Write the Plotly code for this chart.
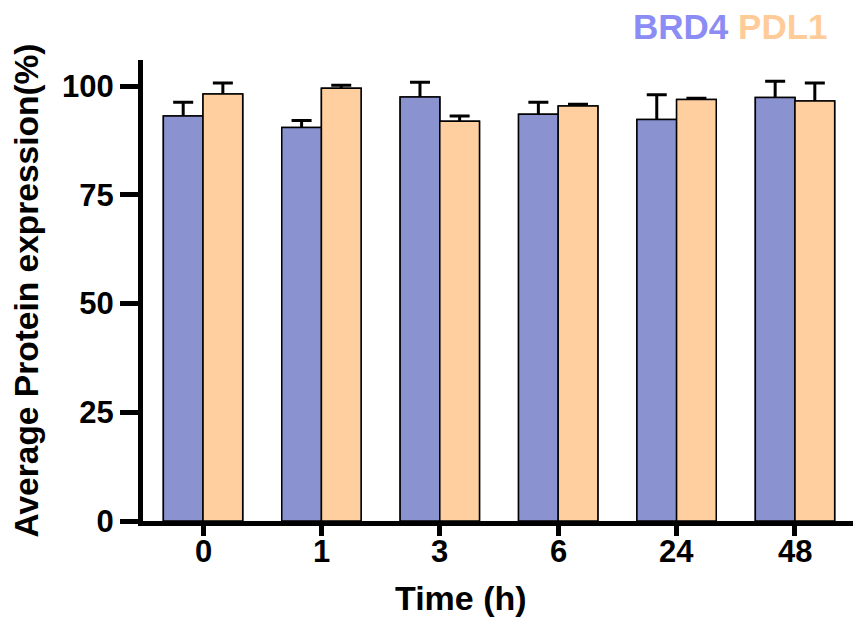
import plotly.graph_objects as go

time_labels = ["0", "1", "3", "6", "24", "48"]
brd4_mean = [93.1, 90.5, 97.5, 93.5, 92.3, 97.4]
brd4_err = [3.2, 1.6, 3.4, 2.8, 5.7, 3.7]
pdl1_mean = [98.2, 99.5, 91.9, 95.4, 96.9, 96.6]
pdl1_err = [2.5, 0.7, 1.2, 0.4, 0.3, 4.1]

BAR_BLUE = "#8A92D0"
BAR_ORANGE = "#FFCF9F"
TXT_BLUE = "#8C8CF5"
TXT_ORANGE = "#FFCC99"
FONT = "Liberation Sans, Arial, sans-serif"

fig = go.Figure()

# bars carrying the error bars (symmetric; lower half hidden by cover bars)
for name, vals, errs, col, grp in [("BRD4", brd4_mean, brd4_err, BAR_BLUE, "a"),
                                   ("PDL1", pdl1_mean, pdl1_err, BAR_ORANGE, "b")]:
    fig.add_trace(go.Bar(
        x=time_labels, y=vals, name=name, offsetgroup=grp, showlegend=False,
        marker=dict(color=col, line=dict(color="black", width=1.5)),
        error_y=dict(type="data", array=errs, symmetric=True,
                     color="black", thickness=3, width=10),
        hoverinfo="skip",
    ))
# cover bars drawn on top to hide the lower half of the error bars
for name, vals, col, grp in [("BRD4", brd4_mean, BAR_BLUE, "a"),
                             ("PDL1", pdl1_mean, BAR_ORANGE, "b")]:
    fig.add_trace(go.Bar(
        x=time_labels, y=vals, name=name, offsetgroup=grp, showlegend=False,
        marker=dict(color=col, line=dict(color="black", width=1.5)),
    ))

# x tick labels placed as annotations (closer to the axis than Plotly's default);
# category index used as x so numeric-looking labels are not misread as values
tick_annots = [
    dict(text=lab, x=i, xref="x", y=0, yref="paper", yshift=-30,
         xanchor="center", yanchor="middle", showarrow=False,
         font=dict(size=31, family=FONT, weight="bold", color="black"))
    for i, lab in enumerate(time_labels)
]

fig.update_layout(
    width=853, height=619,
    margin=dict(l=143, r=0, t=60, b=98),
    plot_bgcolor="white", paper_bgcolor="white",
    barmode="group", bargap=0.33, bargroupgap=0,
    font=dict(family=FONT, color="black"),
    showlegend=False,
    xaxis=dict(
        type="category", range=[-0.507, 5.49],
        showline=True, linecolor="black", linewidth=5,
        ticks="outside", ticklen=10, tickwidth=5, tickcolor="black",
        showticklabels=False,
        showgrid=False, zeroline=False,
    ),
    yaxis=dict(
        range=[0, 106],
        tickvals=[0, 25, 50, 75, 100],
        showline=True, linecolor="black", linewidth=5,
        ticks="outside", ticklen=18, tickwidth=5, tickcolor="black",
        tickfont=dict(size=31, family=FONT, weight="bold"),
        showgrid=False, zeroline=False,
        title=dict(text="Average Protein expression(%)",
                   font=dict(size=33.5, family=FONT, weight="bold"),
                   standoff=15),
    ),
    annotations=tick_annots + [
        dict(text="Time (h)", xref="paper", yref="paper",
             x=0.448, y=-0.168, xanchor="center", yanchor="middle",
             showarrow=False,
             font=dict(size=34, family=FONT, weight="bold", color="black")),
        dict(text=f"<span style='color:{TXT_BLUE}'>BRD4</span> "
                  f"<span style='color:{TXT_ORANGE}'>PDL1</span>",
             xref="paper", yref="paper", x=0.9676, y=1.0716,
             xanchor="right", yanchor="middle", showarrow=False,
             font=dict(size=35, family=FONT, weight="bold")),
    ],
)

fig.write_html("out.html")
